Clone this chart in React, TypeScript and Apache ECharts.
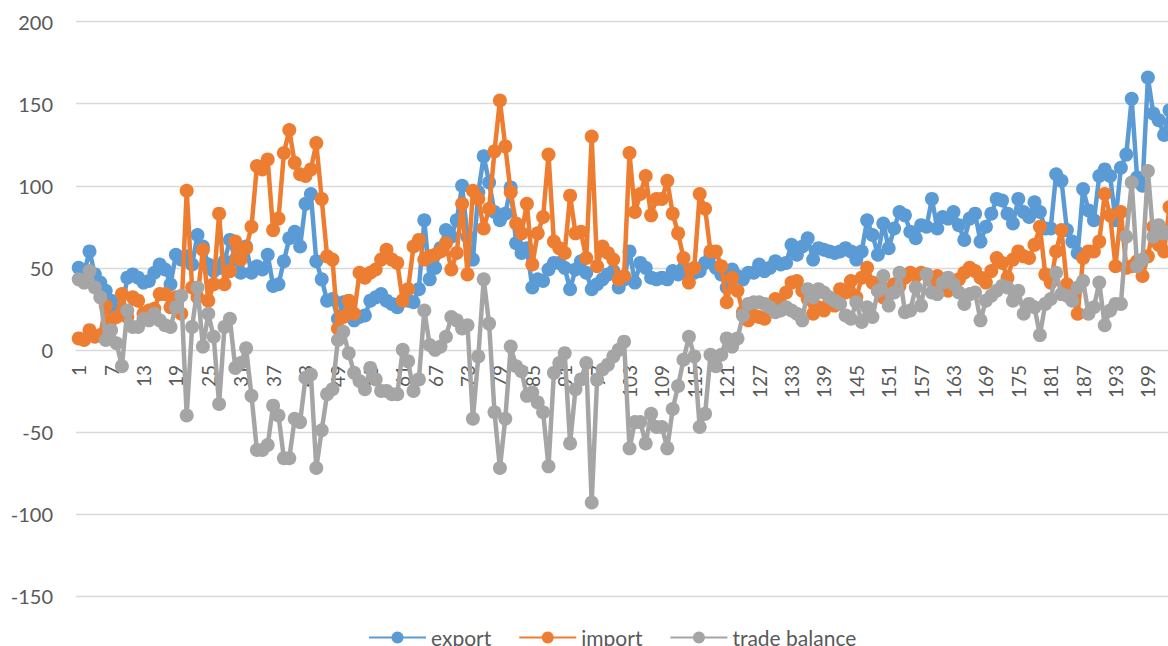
import React, { useEffect, useRef } from "react";
import * as echarts from "echarts";

const categories: string[] = Array.from({ length: 204 }, (_, i) => String(i + 1));

const exportValues: number[] = [
  50, 47, 60, 46, 41, 36, 30, 24, 24, 44,
  46, 44, 41, 42, 47, 52, 49, 40, 58, 55,
  57, 52, 70, 63, 52, 48, 50, 54, 67, 55,
  47, 63, 47, 51, 49, 58, 39, 40, 54, 68,
  72, 63, 89, 95, 54, 43, 30, 31, 19, 29,
  25, 18, 20, 21, 30, 32, 34, 30, 28, 26,
  30, 30, 29, 37, 79, 43, 50, 62, 73, 69,
  79, 100, 69, 55, 96, 118, 102, 84, 79, 83,
  99, 65, 59, 62, 38, 43, 42, 49, 53, 53,
  50, 37, 49, 54, 47, 37, 40, 43, 46, 48,
  38, 43, 60, 41, 53, 50, 44, 43, 44, 43,
  48, 46, 50, 47, 47, 48, 53, 58, 50, 46,
  38, 49, 45, 43, 47, 47, 52, 48, 50, 54,
  52, 53, 64, 58, 63, 68, 55, 62, 61, 60,
  59, 60, 62, 60, 55, 60, 79, 70, 58, 77,
  62, 74, 84, 82, 72, 68, 76, 75, 92, 74,
  81, 80, 84, 76, 67, 80, 83, 66, 75, 83,
  92, 91, 83, 77, 92, 84, 81, 90, 84, 74,
  74, 107, 103, 73, 66, 59, 98, 85, 79, 106,
  110, 106, 79, 111, 119, 153, 105, 100, 166, 144,
  140, 131, 146, 140,
];

const importValues: number[] = [
  7, 6, 12, 8, 9, 27, 18, 20, 34, 20,
  32, 30, 22, 24, 25, 34, 34, 26, 32, 22,
  97, 38, 32, 61, 30, 40, 83, 40, 48, 66,
  55, 62, 75, 112, 110, 116, 73, 80, 120, 134,
  114, 107, 106, 110, 126, 92, 57, 55, 13, 20,
  30, 22, 47, 44, 47, 49, 55, 61, 55, 53,
  30, 37, 63, 67, 55, 57, 58, 60, 65, 49,
  59, 89, 46, 97, 92, 74, 86, 121, 152, 124,
  96, 77, 71, 89, 52, 71, 81, 119, 66, 62,
  59, 94, 71, 72, 56, 130, 51, 63, 59, 55,
  43, 45, 120, 84, 95, 106, 82, 92, 92, 103,
  83, 71, 56, 41, 50, 95, 86, 60, 60, 51,
  29, 44, 36, 23, 18, 21, 20, 19, 25, 31,
  28, 35, 41, 42, 36, 31, 22, 26, 24, 29,
  27, 37, 35, 42, 32, 44, 50, 41, 36, 32,
  37, 40, 39, 44, 47, 45, 47, 46, 42, 45,
  40, 36, 41, 43, 47, 50, 48, 44, 41, 48,
  56, 53, 44, 55, 60, 57, 56, 64, 75, 46,
  41, 60, 73, 40, 36, 22, 56, 60, 60, 66,
  95, 82, 51, 84, 50, 51, 54, 45, 57, 75,
  64, 60, 87, 80,
];

const balanceValues: number[] = [
  43, 41, 48, 38, 32, 6, 12, 4, -10, 24,
  14, 14, 19, 18, 22, 18, 15, 14, 26, 33,
  -40, 14, 38, 2, 22, 8, -33, 14, 19, -11,
  -8, 1, -28, -61, -61, -58, -34, -40, -66, -66,
  -42, -44, -17, -15, -72, -49, -27, -24, 6, 11,
  -2, -14, -19, -24, -11, -18, -25, -25, -27, -27,
  0, -7, -25, -18, 24, 3, 0, 2, 8, 20,
  18, 13, 15, -42, -4, 43, 16, -38, -72, -42,
  2, -10, -13, -28, -26, -32, -38, -71, -14, -8,
  -2, -57, -24, -18, -8, -93, -18, -12, -9, -4,
  0, 5, -60, -44, -44, -57, -39, -47, -47, -60,
  -36, -22, -6, 8, -4, -47, -39, -3, -10, -3,
  7, 2, 7, 21, 28, 29, 29, 28, 26, 23,
  24, 26, 24, 22, 18, 37, 32, 37, 35, 32,
  30, 28, 21, 19, 29, 17, 26, 20, 36, 45,
  27, 35, 47, 23, 24, 38, 27, 46, 35, 34,
  41, 44, 40, 35, 28, 34, 35, 18, 30, 33,
  36, 39, 38, 30, 36, 22, 28, 26, 9, 28,
  31, 47, 34, 33, 30, 38, 42, 22, 26, 41,
  15, 24, 28, 28, 69, 102, 51, 55, 109, 69,
  76, 71, 72, 60,
];

const seriesNames: string[] = ["export", "import", "trade balance"];
const seriesColors: string[] = ["#5B9BD5", "#ED7D31", "#A5A5A5"];

const FONT = "Lato, 'Open Sans', sans-serif";
const TEXT_COLOR = "#595959";
const GRID_COLOR = "#D9D9D9";

export default function App() {
  const ref = useRef<HTMLDivElement | null>(null);

  useEffect(() => {
    if (!ref.current) return;
    const chart = echarts.init(ref.current, undefined, { renderer: "svg" });
    const values = [exportValues, importValues, balanceValues];
    chart.setOption({
      animation: false,
      textStyle: { fontFamily: FONT },
      grid: { left: 76, right: 2.4, top: 21.7, bottom: 50, containLabel: false },
      legend: {
        data: seriesNames,
        left: 363,
        top: 622,
        itemWidth: 57,
        itemHeight: 15,
        itemGap: 27,
        textStyle: { fontSize: 21, color: TEXT_COLOR, fontFamily: FONT },
      },
      xAxis: {
        type: "category",
        data: categories,
        boundaryGap: true,
        position: "bottom",
        offset: -246,
        axisLine: { onZero: false, lineStyle: { color: GRID_COLOR, width: 1 } },
        axisTick: { show: false },
        axisLabel: {
          interval: 5,
          rotate: 90,
          margin: 15,
          fontSize: 19,
          color: TEXT_COLOR,
          fontFamily: FONT,
        },
        splitLine: { show: false },
      },
      yAxis: {
        type: "value",
        min: -150,
        max: 200,
        interval: 50,
        axisLine: { show: false },
        axisTick: { show: false },
        axisLabel: { fontSize: 20, color: TEXT_COLOR, margin: 23, fontFamily: FONT },
        splitLine: { lineStyle: { color: GRID_COLOR, width: 1.3 } },
      },
      series: seriesNames.map((name, k) => ({
        name,
        type: "line",
        data: values[k],
        z: 2 + k,
        symbol: "circle",
        symbolSize: 14,
        showAllSymbol: true,
        color: seriesColors[k],
        itemStyle: { color: seriesColors[k] },
        lineStyle: { color: seriesColors[k], width: 4.5 },
      })),
    });
    return () => chart.dispose();
  }, []);

  return (
    <div style={{ position: "fixed", left: 0, top: 0, width: 1168, height: 646, overflow: "hidden", background: "#fff" }}>
      <div ref={ref} style={{ width: 1180, height: 646 }} />
    </div>
  );
}
